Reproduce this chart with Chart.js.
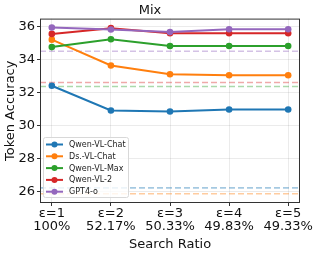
<!DOCTYPE html>
<html>
<head>
<meta charset="utf-8">
<script src="https://cdn.jsdelivr.net/npm/chart.js@4"></script>
<style>
  html, body { margin: 0; padding: 0; background: #fff; }
  #wrap { width: 319px; height: 255px; }
</style>
</head>
<body>
<div id="wrap"><canvas id="chart" width="319" height="255"></canvas></div>
<script>
const epsLabels = ['ε=1', 'ε=2', 'ε=3', 'ε=4', 'ε=5'];
const ratioLabels = ['100%', '52.17%', '50.33%', '49.83%', '49.33%'];
const yTicks = [26, 28, 30, 32, 34, 36];

const models = ['Qwen-VL-Chat', 'Ds.-VL-Chat', 'Qwen-VL-Max', 'Qwen-VL-2', 'GPT4-o'];
const colors = ['#1f77b4', '#ff7f0e', '#2ca02c', '#d62728', '#9467bd'];
const qwenVLChat = [32.42, 30.92, 30.86, 30.98, 30.98];
const dsVLChat   = [35.22, 33.65, 33.12, 33.06, 33.06];
const qwenVLMax  = [34.77, 35.25, 34.84, 34.84, 34.84];
const qwenVL2    = [35.57, 35.92, 35.61, 35.61, 35.61];
const gpt4o      = [35.96, 35.84, 35.68, 35.85, 35.85];
const baselines  = [26.22, 25.86, 32.38, 32.62, 34.52];

const series = [qwenVLChat, dsVLChat, qwenVLMax, qwenVL2, gpt4o];

function hexA(hex, a) {
    const n = parseInt(hex.slice(1), 16);
    return `rgba(${n >> 16},${(n >> 8) & 255},${n & 255},${a})`;
}

const datasets = [];
series.forEach((vals, i) => {
    datasets.push({
        label: models[i],
        data: vals.map((v, j) => ({ x: j, y: v })),
        borderColor: colors[i],
        backgroundColor: colors[i],
        borderWidth: 2,
        pointRadius: 3.3,
        pointBorderWidth: 0,
        order: 5 - i
    });
});
baselines.forEach((v, i) => {
    datasets.push({
        label: '_base' + i,
        data: [{ x: -0.2, y: v }, { x: 4.2, y: v }],
        borderColor: hexA(colors[i], 0.4),
        borderWidth: 1.6,
        borderDash: [6, 3],
        pointRadius: 0,
        order: 10
    });
});

// legend drawn inside plot area, plus spine frame
const insideLegend = {
    id: 'insideLegend',
    afterDraw(chart) {
        const ctx = chart.ctx;
        const a = chart.chartArea;
        ctx.save();
        ctx.strokeStyle = '#333';
        ctx.lineWidth = 1;
        ctx.strokeRect(a.left + 0.5, a.top + 0.5, a.right - a.left - 1, a.bottom - a.top - 1);

        const x0 = a.left + 3, y0 = a.bottom - 66, w = 85, h = 60;
        ctx.fillStyle = 'rgba(255,255,255,0.8)';
        ctx.strokeStyle = '#d8d8d8';
        ctx.beginPath();
        ctx.roundRect(x0 + 0.5, y0 + 0.5, w, h, 2);
        ctx.fill();
        ctx.stroke();
        ctx.font = '8px "DejaVu Sans"';
        ctx.textBaseline = 'middle';
        models.forEach((m, i) => {
            const y = y0 + 7.5 + i * 11.8;
            ctx.strokeStyle = colors[i];
            ctx.fillStyle = colors[i];
            ctx.lineWidth = 2;
            ctx.beginPath();
            ctx.moveTo(x0 + 3, y);
            ctx.lineTo(x0 + 20, y);
            ctx.stroke();
            ctx.beginPath();
            ctx.arc(x0 + 11.5, y, 3, 0, Math.PI * 2);
            ctx.fill();
            ctx.fillStyle = '#222';
            ctx.fillText(m, x0 + 26, y + 0.5);
        });
        ctx.restore();
    }
};

new Chart(document.getElementById('chart'), {
    type: 'line',
    data: { datasets },
    plugins: [insideLegend],
    options: {
        responsive: false,
        animation: false,
        layout: { padding: { top: 0, right: 19, bottom: 0, left: 0 } },
        plugins: {
            legend: { display: false },
            tooltip: { enabled: false },
            title: {
                display: true,
                text: 'Mix',
                color: '#111',
                font: { family: 'DejaVu Sans', size: 13, weight: 'normal' },
                padding: { top: 3, bottom: 0 }
            }
        },
        scales: {
            x: {
                type: 'linear',
                min: -0.2,
                max: 4.2,
                afterBuildTicks(scale) { scale.ticks = [0, 1, 2, 3, 4].map(v => ({ value: v })); },
                afterFit(scale) { scale.height = 52; },
                grid: { color: 'rgba(0,0,0,0.08)', drawTicks: true, tickLength: 3, tickColor: '#333' },
                border: { display: false },
                ticks: {
                    color: '#111',
                    padding: 1,
                    maxRotation: 0,
                    font: { family: 'DejaVu Sans', size: 13, lineHeight: 1.0 },
                    callback: v => [epsLabels[v], ratioLabels[v]]
                },
                title: {
                    display: true,
                    text: 'Search Ratio',
                    color: '#111',
                    font: { family: 'DejaVu Sans', size: 13 },
                    padding: { top: 0, bottom: 3 }
                }
            },
            y: {
                min: 25.3,
                max: 36.5,
                afterBuildTicks(scale) { scale.ticks = yTicks.map(v => ({ value: v })); },
                afterFit(scale) { scale.width = 40; },
                grid: { color: 'rgba(0,0,0,0.08)', drawTicks: true, tickLength: 3, tickColor: '#333' },
                border: { display: false },
                ticks: {
                    color: '#111',
                    padding: 2,
                    font: { family: 'DejaVu Sans', size: 13 }
                },
                title: {
                    display: true,
                    text: 'Token Accuracy',
                    color: '#111',
                    font: { family: 'DejaVu Sans', size: 13 },
                    padding: { top: 3, bottom: 0 }
                }
            }
        }
    }
});
</script>
</body>
</html>
